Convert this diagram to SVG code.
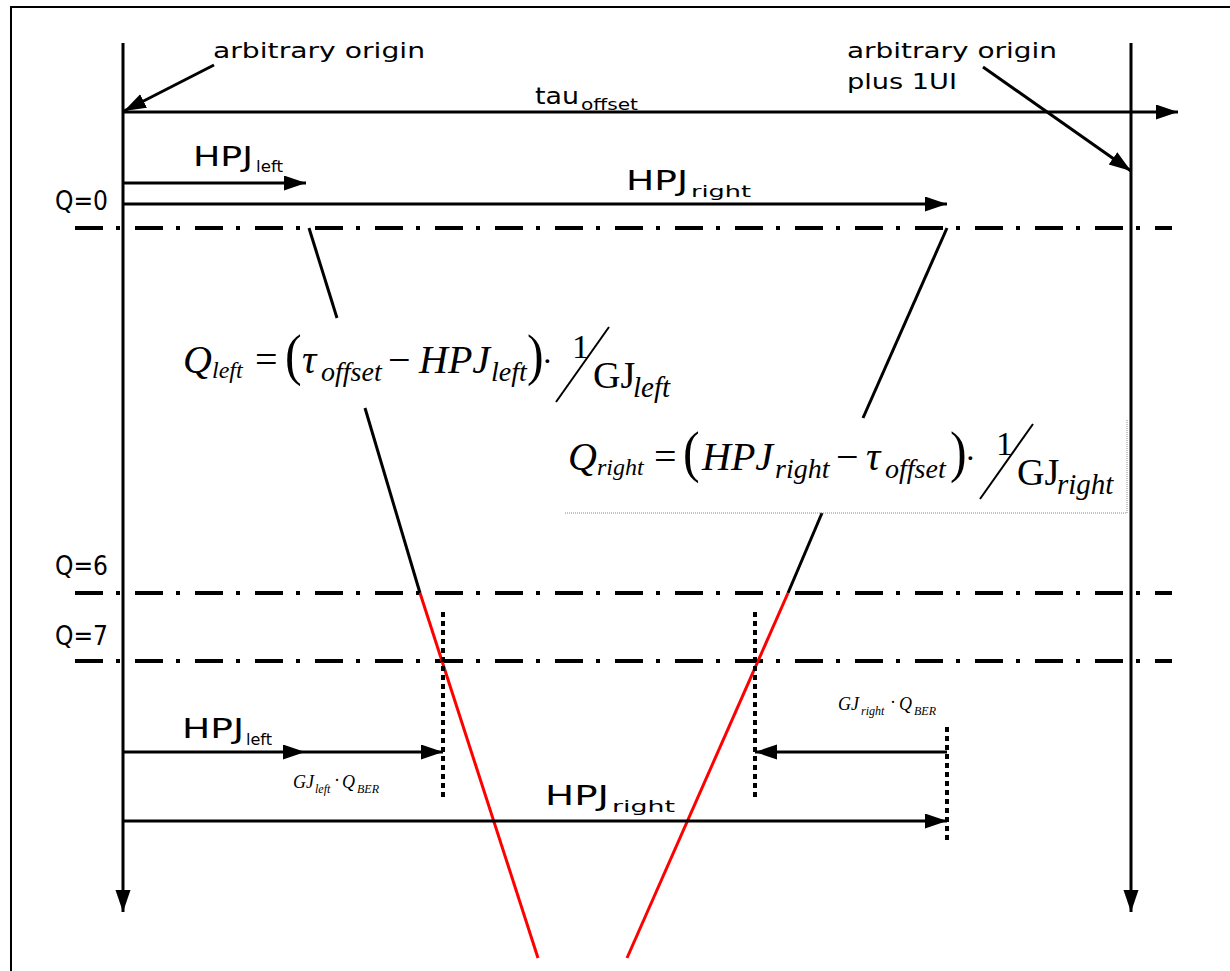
<svg xmlns="http://www.w3.org/2000/svg" width="1230" height="971" viewBox="0 0 1230 971">
<defs>
<marker id="ah" markerUnits="userSpaceOnUse" markerWidth="24" markerHeight="16" refX="22" refY="7.5" orient="auto"><path d="M0,0 L22,7.5 L0,15 z" fill="#000"/></marker>
<style>
.ln{stroke:#000;stroke-width:3;fill:none}
.dd{stroke:#000;stroke-width:4;stroke-dasharray:28 13 4 15;fill:none}
.red{stroke:#f00;stroke-width:3;fill:none}
.dot{stroke:#000;stroke-width:4;stroke-dasharray:5 4;fill:none}
.box{stroke:#888;stroke-width:1;stroke-dasharray:1 1;fill:none}
.s{font-family:"DejaVu Sans",sans-serif;fill:#000}
.m{font-family:"Liberation Serif","Times New Roman",serif;font-style:italic;fill:#000}
.mn{font-family:"Liberation Serif","Times New Roman",serif;font-style:normal;fill:#000}
</style>
</defs>
<rect width="1230" height="971" fill="#fff"/>
<path d="M11,971 V7 H1230" stroke="#000" stroke-width="2" fill="none"/>

<g id="connectors">
<line class="ln" x1="123" y1="43" x2="123" y2="912" marker-end="url(#ah)"/>
<line class="ln" x1="1131" y1="43" x2="1131" y2="912" marker-end="url(#ah)"/>
<line class="ln" x1="123" y1="112" x2="1178" y2="112" marker-end="url(#ah)"/>
<line class="ln" x1="214" y1="65" x2="124" y2="111" marker-end="url(#ah)"/>
<line class="ln" x1="983" y1="67" x2="1131" y2="171" marker-end="url(#ah)"/>
<line class="ln" x1="123" y1="183" x2="306" y2="183" marker-end="url(#ah)"/>
<line class="ln" x1="123" y1="204" x2="947" y2="204" marker-end="url(#ah)"/>
<line class="dd" x1="75" y1="228" x2="1172" y2="228"/>
<line class="dd" x1="75" y1="593" x2="1172" y2="593"/>
<line class="dd" x1="75" y1="661" x2="1172" y2="661"/>
<line class="ln" x1="309" y1="228" x2="337" y2="318"/>
<line class="ln" x1="365" y1="408" x2="420" y2="593"/>
<line class="red" x1="420" y1="593" x2="538" y2="958"/>
<line class="ln" x1="947" y1="228" x2="863" y2="418"/>
<line class="ln" x1="822" y1="513" x2="788" y2="593"/>
<line class="red" x1="788" y1="593" x2="627" y2="958"/>
<line class="dot" x1="443" y1="612" x2="443" y2="800"/>
<line class="dot" x1="755" y1="612" x2="755" y2="800"/>
<line class="dot" x1="947" y1="727" x2="947" y2="840"/>
<line class="ln" x1="123" y1="752" x2="305" y2="752" marker-end="url(#ah)"/>
<line class="ln" x1="305" y1="752" x2="443" y2="752" marker-end="url(#ah)"/>
<line class="ln" x1="947" y1="752" x2="755" y2="752" marker-end="url(#ah)"/>
<line class="ln" x1="123" y1="821" x2="947" y2="821" marker-end="url(#ah)"/>
</g>

<g id="label-origin">
<text class="s" x="213" y="58" font-size="21" textLength="212" lengthAdjust="spacingAndGlyphs">arbitrary origin</text>
</g>
<g id="label-origin-1ui">
<text class="s" x="847" y="58" font-size="21" textLength="210" lengthAdjust="spacingAndGlyphs">arbitrary origin</text>
<text class="s" x="847" y="89" font-size="21" textLength="110" lengthAdjust="spacingAndGlyphs">plus 1UI</text>
</g>
<g id="label-tau">
<text class="s" x="535" y="104" font-size="23" textLength="44" lengthAdjust="spacingAndGlyphs">tau</text>
<text class="s" x="581" y="110" font-size="16" textLength="57" lengthAdjust="spacingAndGlyphs">offset</text>
</g>
<g id="label-hpj-left-top">
<text class="s" x="193" y="166" font-size="26" textLength="60" lengthAdjust="spacingAndGlyphs">HPJ</text>
<text class="s" x="256" y="172" font-size="16" textLength="27" lengthAdjust="spacingAndGlyphs">left</text>
</g>
<g id="label-hpj-right-top">
<text class="s" x="626" y="190" font-size="26" textLength="62" lengthAdjust="spacingAndGlyphs">HPJ</text>
<text class="s" x="691" y="197" font-size="16" textLength="60" lengthAdjust="spacingAndGlyphs">right</text>
</g>
<g id="label-q0"><text class="s" x="55" y="210" font-size="26" textLength="53" lengthAdjust="spacingAndGlyphs">Q=0</text></g>
<g id="label-q6"><text class="s" x="55" y="575" font-size="26" textLength="53" lengthAdjust="spacingAndGlyphs">Q=6</text></g>
<g id="label-q7"><text class="s" x="55" y="645" font-size="26" textLength="53" lengthAdjust="spacingAndGlyphs">Q=7</text></g>

<g id="formula-left">
<text class="m" x="183" y="373" font-size="40">Q</text>
<text class="m" x="212" y="378" font-size="24">left</text>
<text class="mn" x="255" y="373" font-size="40">=</text>
<text class="mn" x="285" y="374" font-size="50" transform="translate(285 374) scale(1 1.15) translate(-285 -374)">(</text>
<text class="m" x="302" y="373" font-size="40">τ</text>
<text class="m" x="321" y="381" font-size="28">offset</text>
<text class="mn" x="388" y="373" font-size="40">−</text>
<text class="m" x="419" y="373" font-size="40">HPJ</text>
<text class="m" x="491" y="381" font-size="28">left</text>
<text class="mn" x="527" y="374" font-size="50" transform="translate(527 374) scale(1 1.15) translate(-527 -374)">)</text>
<text class="mn" x="542" y="372" font-size="32">·</text>
<text class="mn" x="572" y="358" font-size="34">1</text>
<line x1="556" y1="402" x2="609" y2="327" stroke="#000" stroke-width="2"/>
<text class="mn" x="593" y="388" font-size="38">GJ</text>
<text class="m" x="633" y="397" font-size="29">left</text>
</g>

<g id="formula-right">
<path class="box" d="M565,513 H1127 V420"/>
<text class="m" x="568" y="470" font-size="40">Q</text>
<text class="m" x="597" y="475" font-size="24">right</text>
<text class="mn" x="654" y="470" font-size="40">=</text>
<text class="mn" x="683" y="471" font-size="50" transform="translate(683 471) scale(1 1.15) translate(-683 -471)">(</text>
<text class="m" x="702" y="470" font-size="40">HPJ</text>
<text class="m" x="775" y="478" font-size="28">right</text>
<text class="mn" x="836" y="470" font-size="40">−</text>
<text class="m" x="866" y="470" font-size="40">τ</text>
<text class="m" x="885" y="478" font-size="28">offset</text>
<text class="mn" x="950" y="471" font-size="50" transform="translate(950 471) scale(1 1.15) translate(-950 -471)">)</text>
<text class="mn" x="965" y="469" font-size="32">·</text>
<text class="mn" x="996" y="455" font-size="34">1</text>
<line x1="980" y1="499" x2="1033" y2="424" stroke="#000" stroke-width="2"/>
<text class="mn" x="1017" y="485" font-size="38">GJ</text>
<text class="m" x="1057" y="494" font-size="29">right</text>
</g>

<g id="label-hpj-left-bottom">
<text class="s" x="182" y="738" font-size="26" textLength="62" lengthAdjust="spacingAndGlyphs">HPJ</text>
<text class="s" x="246" y="745" font-size="16" textLength="26" lengthAdjust="spacingAndGlyphs">left</text>
</g>
<g id="label-gj-left">
<text class="m" x="293" y="788" font-size="18">GJ</text>
<text class="m" x="315" y="793" font-size="12">left</text>
<text class="mn" x="334" y="786" font-size="18">·</text>
<text class="m" x="342" y="788" font-size="18">Q</text>
<text class="m" x="357" y="793" font-size="12">BER</text>
</g>
<g id="label-gj-right">
<text class="m" x="838" y="710" font-size="18">GJ</text>
<text class="m" x="861" y="715" font-size="12">right</text>
<text class="mn" x="890" y="708" font-size="18">·</text>
<text class="m" x="899" y="710" font-size="18">Q</text>
<text class="m" x="914" y="715" font-size="12">BER</text>
</g>
<g id="label-hpj-right-bottom">
<text class="s" x="545" y="805" font-size="26" textLength="64" lengthAdjust="spacingAndGlyphs">HPJ</text>
<text class="s" x="612" y="812" font-size="16" textLength="63" lengthAdjust="spacingAndGlyphs">right</text>
</g>
</svg>
